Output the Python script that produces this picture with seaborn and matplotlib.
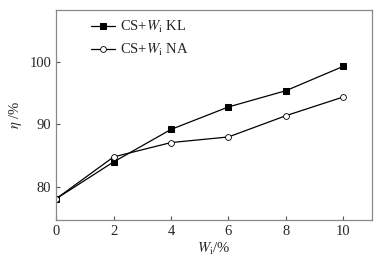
import matplotlib

matplotlib.use("Agg")
import matplotlib.pyplot as plt
import pandas as pd
import seaborn as sns

wi = [0, 2, 4, 6, 8, 10]
eta_kl = [78.1, 84.0, 89.2, 92.8, 95.4, 99.3]
eta_na = [78.1, 84.8, 87.1, 88.0, 91.4, 94.4]
x_ticks = [0, 2, 4, 6, 8, 10]
y_ticks = [80, 90, 100]

sns.set_style("ticks")
plt.rcParams["font.family"] = ["Liberation Serif", "DejaVu Serif"]
plt.rcParams["mathtext.fontset"] = "stix"

df = pd.DataFrame({"Wi": wi + wi,
                   "eta": eta_kl + eta_na,
                   "series": ["KL"] * len(wi) + ["NA"] * len(wi)})

fig = plt.figure(figsize=(3.84, 2.58), dpi=100)
ax = fig.add_axes([0.146, 0.147, 0.823, 0.814])

kl = df[df.series == "KL"]
na = df[df.series == "NA"]
sns.lineplot(data=kl, x="Wi", y="eta", ax=ax, color="black", lw=0.9,
             marker="s", markersize=4.2, markerfacecolor="black",
             markeredgecolor="black", label=r"CS+$W_{\rm i}$ KL")
sns.lineplot(data=na, x="Wi", y="eta", ax=ax, color="black", lw=0.9,
             marker="o", markersize=4.2, markerfacecolor="white",
             markeredgecolor="black", markeredgewidth=0.6,
             label=r"CS+$W_{\rm i}$ NA")

ax.set_xlim(0, 11)
ax.set_ylim(74.7, 108.3)
ax.set_xticks(x_ticks)
ax.set_yticks(y_ticks)
ax.tick_params(direction="in", length=3, width=0.8, labelsize=10.5, color="#555555")
for s in ax.spines.values():
    s.set_color("#888888")
    s.set_linewidth(0.9)
ax.set_xlabel(r"$W_{\rm i}$/%", fontsize=10.5, labelpad=2)
ax.set_ylabel(r"$\eta$ /%", fontsize=10.5, labelpad=4)

ax.legend(loc="upper left", bbox_to_anchor=(0.07, 1.02), frameon=False,
          fontsize=10.5, handlelength=1.6, handletextpad=0.4, labelspacing=0.5)

fig.savefig("out.png", dpi=100, facecolor="white")
